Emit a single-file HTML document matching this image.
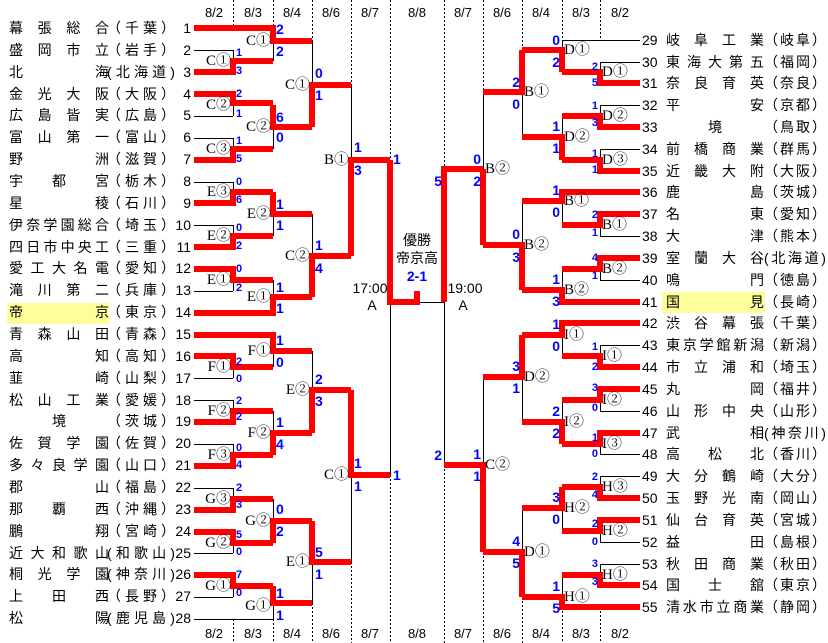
<!DOCTYPE html>
<html><head><meta charset="utf-8"><style>
html,body{margin:0;padding:0;background:#fff}
#w{position:relative;width:828px;height:643px;overflow:hidden;background:#fff}
svg{position:absolute;left:0;top:0}
.r{position:absolute;left:0;width:828px;height:20px;line-height:20px;font-size:14px;font-family:"Liberation Sans","Noto Sans CJK JP",sans-serif;color:#000}
.r span{position:absolute;top:0;display:flex;justify-content:space-between}
.r i{font-style:normal}
.L .n{left:9px;width:100px}
.L .p{left:107px;width:68px}
.L .k{left:168px;width:23px;justify-content:flex-end}
.R .k{left:642px;width:22px;justify-content:flex-start}
.R .n{left:666px;width:98px}
.R .p{left:764px;width:62px}
.c{justify-content:center!important}
.hl{position:absolute;background:#ffff99}
</style></head><body><div id="w">
<div class="hl" style="left:7px;top:303px;width:102px;height:21px"></div>
<div class="hl" style="left:662px;top:292px;width:103px;height:21px"></div>
<svg width="828" height="643" viewBox="0 0 828 643" xmlns="http://www.w3.org/2000/svg">
<g font-family="Liberation Sans, sans-serif" font-size="13" text-anchor="middle" fill="#000">
<text x="214" y="17">8/2</text><text x="253" y="17">8/3</text><text x="292" y="17">8/4</text><text x="331" y="17">8/6</text><text x="370" y="17">8/7</text><text x="417" y="17">8/8</text><text x="463" y="17">8/7</text><text x="502" y="17">8/6</text><text x="541" y="17">8/4</text><text x="581" y="17">8/3</text><text x="620" y="17">8/2</text>
<text x="214" y="638">8/2</text><text x="253" y="638">8/3</text><text x="292" y="638">8/4</text><text x="331" y="638">8/6</text><text x="370" y="638">8/7</text><text x="417" y="638">8/8</text><text x="463" y="638">8/7</text><text x="502" y="638">8/6</text><text x="541" y="638">8/4</text><text x="581" y="638">8/3</text><text x="620" y="638">8/2</text>
</g>
<g stroke="#000" stroke-width="1" stroke-dasharray="2,2" fill="none">
<path d="M233.5 0V28M273.5 0V28M312.5 0V41M351.5 0V85M390.5 0V160M444.5 0V169M483.5 0V92M522.5 0V50M562.5 0V40M600.5 0V40"/>
<path d="M233.5 619V643M273.5 619V643M312.5 603V643M351.5 562V643M390.5 475V643M444.5 465V643M483.5 552V643M522.5 597V643M562.5 607V643M600.5 607V643"/>
</g>
<g stroke="#000" stroke-width="1" fill="none">
<path d="M194 50.5H233M194 116.5H233M194 138.5H233M194 182.5H233M194 225.5H233M194 291.5H233M194 378.5H233M194 400.5H233M194 444.5H233M194 488.5H233M194 553.5H233M194 597.5H233M194 619.5H273"/>
<path d="M233.5 50V72M233.5 94V116M233.5 138V160M233.5 182V203M233.5 225V247M233.5 269V291M233.5 356V378M233.5 400V422M233.5 444V466M233.5 488V510M233.5 532V553M233.5 575V597"/>
<path d="M273.5 28V61M273.5 105V149M273.5 192V236M273.5 280V313M273.5 335V367M273.5 411V455M273.5 499V543M273.5 586V619"/>
<path d="M312.5 41V127M312.5 214V297M312.5 351V433M312.5 521V603M351.5 85V256M351.5 390V562M390.5 160V475M390 302.5H444M444.5 169V465"/>
<path d="M483.5 92V245M483.5 377V552M522.5 50V137M522.5 201V290M522.5 335V422M522.5 508V597"/>
<path d="M562.5 40V72M562.5 116V160M562.5 192V225M562.5 269V302M562.5 323V356M562.5 400V444M562.5 487V531M562.5 575V607"/>
<path d="M600.5 62V83M600.5 105V127M600.5 149V171M600.5 214V236M600.5 258V280M600.5 345V367M600.5 389V411M600.5 433V454M600.5 476V498M600.5 520V542M600.5 564V585"/>
<path d="M640 40.5H562M640 62.5H600M640 105.5H600M640 149.5H600M640 236.5H600M640 280.5H600M640 345.5H600M640 411.5H600M640 454.5H600M640 476.5H600M640 542.5H600M640 564.5H600"/>
</g>
<g stroke="#ff0000" stroke-width="6" fill="none" stroke-linejoin="miter" stroke-linecap="butt">
<path d="M194 72H233V61H273M194 94H233V103H273M194 160H233V149H273M194 203H233V192H273M194 247H233V236H273M194 269H233V280H273M194 356H233V367H273M194 422H233V411H273M194 466H233V455H273M194 510H233V499H273M194 532H233V543H273M194 575H233V586H273"/>
<path d="M194 28H273V41H312M273 105V127H312M273 192V214H312M194 313H273V297H312M194 335H273V351H312M273 455V433H312M273 543V521H312M273 586V603H312"/>
<path d="M312 127V85H351M312 297V256H351M312 433V390H351M312 521V562H351M351 256V160H390M351 390V475H390M390 160V302H417V291"/>
<path d="M444 302V169H483M483 245V169M483 552V465H444"/>
<path d="M522 50V92H483M522 290V245H483M522 335V377H483M522 597V552H483"/>
<path d="M562 72V50H522M562 160V137H522M640 192H562V201H522M640 302H562V290H522M640 323H562V335H522M562 444V422H522M562 487V508H522M640 607H562V597H522"/>
<path d="M640 83H600V72H562M640 127H600V116H562M640 171H600V160H562M640 214H600V225H562M640 258H600V269H562M640 367H600V356H562M640 389H600V400H562M640 433H600V444H562M640 498H600V487H562M640 520H600V531H562M640 585H600V575H562"/>
</g>
<g font-family="Liberation Serif, Noto Serif CJK SC, serif" font-size="15" fill="#000" dominant-baseline="central">
<g text-anchor="end">
<text x="231" y="61">C①</text><text x="231" y="105">C②</text><text x="231" y="149">C③</text><text x="231" y="192">E③</text><text x="231" y="236">E②</text><text x="231" y="280">E①</text><text x="231" y="367">F①</text><text x="231" y="411">F②</text><text x="231" y="455">F③</text><text x="231" y="499">G③</text><text x="231" y="543">G②</text><text x="231" y="586">G①</text>
<text x="271" y="41">C①</text><text x="271" y="127">C②</text><text x="271" y="214">E②</text><text x="271" y="297">E①</text><text x="271" y="351">F①</text><text x="271" y="433">F②</text><text x="271" y="521">G②</text><text x="271" y="606">G①</text>
<text x="310" y="85">C①</text><text x="310" y="256">C②</text><text x="310" y="390">E②</text><text x="310" y="562">E①</text>
<text x="349" y="160">B①</text><text x="349" y="475">C①</text>
</g>
<g text-anchor="start">
<text x="602" y="72">D①</text><text x="602" y="116">D②</text><text x="602" y="160">D③</text><text x="602" y="225">B①</text><text x="602" y="269">B②</text><text x="602" y="356">I①</text><text x="602" y="400">I②</text><text x="602" y="444">I③</text><text x="602" y="487">H③</text><text x="602" y="531">H②</text><text x="602" y="575">H①</text>
<text x="564" y="50">D①</text><text x="564" y="137">D②</text><text x="564" y="201">B①</text><text x="564" y="290">B②</text><text x="564" y="335">I①</text><text x="564" y="422">I②</text><text x="564" y="508">H②</text><text x="564" y="597">H①</text>
<text x="524" y="92">B①</text><text x="524" y="245">B②</text><text x="524" y="377">D②</text><text x="524" y="552">D①</text>
<text x="485" y="169">B②</text><text x="485" y="465">C②</text>
</g>
</g>
<g font-family="Liberation Sans, sans-serif" font-weight="bold" fill="#0000ff" dominant-baseline="central">
<g font-size="11" text-anchor="start">
<text x="236" y="53">1</text><text x="236" y="71">3</text>
<text x="236" y="94">2</text><text x="236" y="114">1</text>
<text x="236" y="141">1</text><text x="236" y="159">5</text>
<text x="236" y="182">0</text><text x="236" y="200">6</text>
<text x="236" y="228">0</text><text x="236" y="246">2</text>
<text x="236" y="269">0</text><text x="236" y="288">2</text>
<text x="236" y="362">2</text><text x="236" y="379">0</text>
<text x="236" y="401">2</text><text x="236" y="417">2</text>
<text x="236" y="448">0</text><text x="236" y="465">4</text>
<text x="236" y="488">2</text><text x="236" y="505">3</text>
<text x="236" y="535">5</text><text x="236" y="552">0</text>
<text x="236" y="575">7</text><text x="236" y="593">0</text>
</g>
<g font-size="11" text-anchor="end">
<text x="598" y="67">2</text><text x="598" y="83">5</text>
<text x="598" y="106">1</text><text x="598" y="123">3</text>
<text x="598" y="154">1</text><text x="598" y="170">1</text>
<text x="598" y="215">2</text><text x="598" y="233">1</text>
<text x="598" y="258">4</text><text x="598" y="276">1</text>
<text x="598" y="347">1</text><text x="598" y="367">2</text>
<text x="598" y="388">3</text><text x="598" y="408">0</text>
<text x="598" y="438">1</text><text x="598" y="454">0</text>
<text x="598" y="477">2</text><text x="598" y="495">4</text>
<text x="598" y="524">2</text><text x="598" y="542">0</text>
<text x="598" y="564">3</text><text x="598" y="582">3</text>
</g>
<g font-size="14" text-anchor="start">
<text x="276" y="29">2</text><text x="276" y="51">2</text>
<text x="276" y="117">6</text><text x="276" y="137">0</text>
<text x="276" y="204">1</text><text x="276" y="225">1</text>
<text x="276" y="287">1</text><text x="276" y="308">1</text>
<text x="276" y="340">1</text><text x="276" y="362">0</text>
<text x="276" y="422">1</text><text x="276" y="444">4</text>
<text x="276" y="509">0</text><text x="276" y="531">2</text>
<text x="276" y="593">1</text><text x="276" y="615">1</text>
<text x="315" y="73">0</text><text x="315" y="95">1</text>
<text x="315" y="245">1</text><text x="315" y="268">4</text>
<text x="315" y="379">2</text><text x="315" y="401">3</text>
<text x="315" y="552">5</text><text x="315" y="574">1</text>
<text x="354" y="147">1</text><text x="354" y="170">3</text>
<text x="354" y="463">1</text><text x="354" y="486">1</text>
<text x="393" y="159">1</text><text x="393" y="475">1</text>
</g>
<g font-size="14" text-anchor="end">
<text x="442" y="181">5</text><text x="442" y="455">2</text>
<text x="481" y="159">0</text><text x="481" y="181">2</text>
<text x="481" y="454">1</text><text x="481" y="476">1</text>
<text x="520" y="82">2</text><text x="520" y="104">0</text>
<text x="520" y="234">0</text><text x="520" y="257">3</text>
<text x="520" y="366">3</text><text x="520" y="388">1</text>
<text x="520" y="541">4</text><text x="520" y="563">5</text>
<text x="560" y="40">0</text><text x="560" y="62">2</text>
<text x="560" y="126">1</text><text x="560" y="148">1</text>
<text x="560" y="190">1</text><text x="560" y="212">0</text>
<text x="560" y="279">1</text><text x="560" y="301">3</text>
<text x="560" y="324">1</text><text x="560" y="346">0</text>
<text x="560" y="411">2</text><text x="560" y="433">2</text>
<text x="560" y="497">3</text><text x="560" y="519">0</text>
<text x="560" y="586">1</text><text x="560" y="608">5</text>
</g>
</g>
<g font-family="Liberation Sans, Noto Sans CJK JP, sans-serif" font-size="14" text-anchor="middle" fill="#000">
<text x="417" y="245">優勝</text><text x="417" y="263">帝京高</text>
<text x="417" y="281" fill="#0000ff" font-weight="bold">2-1</text>
<text x="370" y="293">17:00</text><text x="372" y="310">A</text>
<text x="465" y="293">19:00</text><text x="463" y="310">A</text>
</g>
</svg>

<div class="r L" style="top:18px"><span class="n"><i>幕</i><i>張</i><i>総</i><i>合</i></span><span class="p"><i>（</i><i>千</i><i>葉</i><i>）</i></span><span class="k">1</span></div>
<div class="r L" style="top:40px"><span class="n"><i>盛</i><i>岡</i><i>市</i><i>立</i></span><span class="p"><i>（</i><i>岩</i><i>手</i><i>）</i></span><span class="k">2</span></div>
<div class="r L" style="top:62px"><span class="n"><i>北</i><i>海</i></span><span class="p"><i>(</i><i>北</i><i>海</i><i>道</i><i>)</i></span><span class="k">3</span></div>
<div class="r L" style="top:84px"><span class="n"><i>金</i><i>光</i><i>大</i><i>阪</i></span><span class="p"><i>（</i><i>大</i><i>阪</i><i>）</i></span><span class="k">4</span></div>
<div class="r L" style="top:105px"><span class="n"><i>広</i><i>島</i><i>皆</i><i>実</i></span><span class="p"><i>（</i><i>広</i><i>島</i><i>）</i></span><span class="k">5</span></div>
<div class="r L" style="top:127px"><span class="n"><i>富</i><i>山</i><i>第</i><i>一</i></span><span class="p"><i>（</i><i>富</i><i>山</i><i>）</i></span><span class="k">6</span></div>
<div class="r L" style="top:149px"><span class="n"><i>野</i><i>洲</i></span><span class="p"><i>（</i><i>滋</i><i>賀</i><i>）</i></span><span class="k">7</span></div>
<div class="r L" style="top:171px"><span class="n"><i>宇</i><i>都</i><i>宮</i></span><span class="p"><i>（</i><i>栃</i><i>木</i><i>）</i></span><span class="k">8</span></div>
<div class="r L" style="top:193px"><span class="n"><i>星</i><i>稜</i></span><span class="p"><i>（</i><i>石</i><i>川</i><i>）</i></span><span class="k">9</span></div>
<div class="r L" style="top:215px"><span class="n"><i>伊</i><i>奈</i><i>学</i><i>園</i><i>総</i><i>合</i></span><span class="p"><i>（</i><i>埼</i><i>玉</i><i>）</i></span><span class="k">10</span></div>
<div class="r L" style="top:237px"><span class="n"><i>四</i><i>日</i><i>市</i><i>中</i><i>央</i><i>工</i></span><span class="p"><i>（</i><i>三</i><i>重</i><i>）</i></span><span class="k">11</span></div>
<div class="r L" style="top:258px"><span class="n"><i>愛</i><i>工</i><i>大</i><i>名</i><i>電</i></span><span class="p"><i>（</i><i>愛</i><i>知</i><i>）</i></span><span class="k">12</span></div>
<div class="r L" style="top:280px"><span class="n"><i>滝</i><i>川</i><i>第</i><i>二</i></span><span class="p"><i>（</i><i>兵</i><i>庫</i><i>）</i></span><span class="k">13</span></div>
<div class="r L" style="top:302px"><span class="n"><i>帝</i><i>京</i></span><span class="p"><i>（</i><i>東</i><i>京</i><i>）</i></span><span class="k">14</span></div>
<div class="r L" style="top:324px"><span class="n"><i>青</i><i>森</i><i>山</i><i>田</i></span><span class="p"><i>（</i><i>青</i><i>森</i><i>）</i></span><span class="k">15</span></div>
<div class="r L" style="top:346px"><span class="n"><i>高</i><i>知</i></span><span class="p"><i>（</i><i>高</i><i>知</i><i>）</i></span><span class="k">16</span></div>
<div class="r L" style="top:368px"><span class="n"><i>韮</i><i>崎</i></span><span class="p"><i>（</i><i>山</i><i>梨</i><i>）</i></span><span class="k">17</span></div>
<div class="r L" style="top:390px"><span class="n"><i>松</i><i>山</i><i>工</i><i>業</i></span><span class="p"><i>（</i><i>愛</i><i>媛</i><i>）</i></span><span class="k">18</span></div>
<div class="r L" style="top:411px"><span class="n c"><i>境</i></span><span class="p"><i>（</i><i>茨</i><i>城</i><i>）</i></span><span class="k">19</span></div>
<div class="r L" style="top:433px"><span class="n"><i>佐</i><i>賀</i><i>学</i><i>園</i></span><span class="p"><i>（</i><i>佐</i><i>賀</i><i>）</i></span><span class="k">20</span></div>
<div class="r L" style="top:455px"><span class="n"><i>多</i><i>々</i><i>良</i><i>学</i><i>園</i></span><span class="p"><i>（</i><i>山</i><i>口</i><i>）</i></span><span class="k">21</span></div>
<div class="r L" style="top:477px"><span class="n"><i>郡</i><i>山</i></span><span class="p"><i>（</i><i>福</i><i>島</i><i>）</i></span><span class="k">22</span></div>
<div class="r L" style="top:499px"><span class="n"><i>那</i><i>覇</i><i>西</i></span><span class="p"><i>（</i><i>沖</i><i>縄</i><i>）</i></span><span class="k">23</span></div>
<div class="r L" style="top:521px"><span class="n"><i>鵬</i><i>翔</i></span><span class="p"><i>（</i><i>宮</i><i>崎</i><i>）</i></span><span class="k">24</span></div>
<div class="r L" style="top:543px"><span class="n"><i>近</i><i>大</i><i>和</i><i>歌</i><i>山</i></span><span class="p"><i>(</i><i>和</i><i>歌</i><i>山</i><i>)</i></span><span class="k">25</span></div>
<div class="r L" style="top:564px"><span class="n"><i>桐</i><i>光</i><i>学</i><i>園</i></span><span class="p"><i>(</i><i>神</i><i>奈</i><i>川</i><i>)</i></span><span class="k">26</span></div>
<div class="r L" style="top:586px"><span class="n"><i>上</i><i>田</i><i>西</i></span><span class="p"><i>（</i><i>長</i><i>野</i><i>）</i></span><span class="k">27</span></div>
<div class="r L" style="top:608px"><span class="n"><i>松</i><i>陽</i></span><span class="p"><i>(</i><i>鹿</i><i>児</i><i>島</i><i>)</i></span><span class="k">28</span></div>

<div class="r R" style="top:30px"><span class="k">29</span><span class="n"><i>岐</i><i>阜</i><i>工</i><i>業</i></span><span class="p"><i>（</i><i>岐</i><i>阜</i><i>）</i></span></div>
<div class="r R" style="top:52px"><span class="k">30</span><span class="n"><i>東</i><i>海</i><i>大</i><i>第</i><i>五</i></span><span class="p"><i>（</i><i>福</i><i>岡</i><i>）</i></span></div>
<div class="r R" style="top:73px"><span class="k">31</span><span class="n"><i>奈</i><i>良</i><i>育</i><i>英</i></span><span class="p"><i>（</i><i>奈</i><i>良</i><i>）</i></span></div>
<div class="r R" style="top:95px"><span class="k">32</span><span class="n"><i>平</i><i>安</i></span><span class="p"><i>（</i><i>京</i><i>都</i><i>）</i></span></div>
<div class="r R" style="top:117px"><span class="k">33</span><span class="n c"><i>境</i></span><span class="p"><i>（</i><i>鳥</i><i>取</i><i>）</i></span></div>
<div class="r R" style="top:139px"><span class="k">34</span><span class="n"><i>前</i><i>橋</i><i>商</i><i>業</i></span><span class="p"><i>（</i><i>群</i><i>馬</i><i>）</i></span></div>
<div class="r R" style="top:161px"><span class="k">35</span><span class="n"><i>近</i><i>畿</i><i>大</i><i>附</i></span><span class="p"><i>（</i><i>大</i><i>阪</i><i>）</i></span></div>
<div class="r R" style="top:182px"><span class="k">36</span><span class="n"><i>鹿</i><i>島</i></span><span class="p"><i>（</i><i>茨</i><i>城</i><i>）</i></span></div>
<div class="r R" style="top:204px"><span class="k">37</span><span class="n"><i>名</i><i>東</i></span><span class="p"><i>（</i><i>愛</i><i>知</i><i>）</i></span></div>
<div class="r R" style="top:226px"><span class="k">38</span><span class="n"><i>大</i><i>津</i></span><span class="p"><i>（</i><i>熊</i><i>本</i><i>）</i></span></div>
<div class="r R" style="top:248px"><span class="k">39</span><span class="n"><i>室</i><i>蘭</i><i>大</i><i>谷</i></span><span class="p"><i>(</i><i>北</i><i>海</i><i>道</i><i>)</i></span></div>
<div class="r R" style="top:270px"><span class="k">40</span><span class="n"><i>鳴</i><i>門</i></span><span class="p"><i>（</i><i>徳</i><i>島</i><i>）</i></span></div>
<div class="r R" style="top:292px"><span class="k">41</span><span class="n"><i>国</i><i>見</i></span><span class="p"><i>（</i><i>長</i><i>崎</i><i>）</i></span></div>
<div class="r R" style="top:313px"><span class="k">42</span><span class="n"><i>渋</i><i>谷</i><i>幕</i><i>張</i></span><span class="p"><i>（</i><i>千</i><i>葉</i><i>）</i></span></div>
<div class="r R" style="top:335px"><span class="k">43</span><span class="n"><i>東</i><i>京</i><i>学</i><i>館</i><i>新</i><i>潟</i></span><span class="p"><i>（</i><i>新</i><i>潟</i><i>）</i></span></div>
<div class="r R" style="top:357px"><span class="k">44</span><span class="n"><i>市</i><i>立</i><i>浦</i><i>和</i></span><span class="p"><i>（</i><i>埼</i><i>玉</i><i>）</i></span></div>
<div class="r R" style="top:379px"><span class="k">45</span><span class="n"><i>丸</i><i>岡</i></span><span class="p"><i>（</i><i>福</i><i>井</i><i>）</i></span></div>
<div class="r R" style="top:401px"><span class="k">46</span><span class="n"><i>山</i><i>形</i><i>中</i><i>央</i></span><span class="p"><i>（</i><i>山</i><i>形</i><i>）</i></span></div>
<div class="r R" style="top:423px"><span class="k">47</span><span class="n"><i>武</i><i>相</i></span><span class="p"><i>(</i><i>神</i><i>奈</i><i>川</i><i>)</i></span></div>
<div class="r R" style="top:444px"><span class="k">48</span><span class="n"><i>高</i><i>松</i><i>北</i></span><span class="p"><i>（</i><i>香</i><i>川</i><i>）</i></span></div>
<div class="r R" style="top:466px"><span class="k">49</span><span class="n"><i>大</i><i>分</i><i>鶴</i><i>崎</i></span><span class="p"><i>（</i><i>大</i><i>分</i><i>）</i></span></div>
<div class="r R" style="top:488px"><span class="k">50</span><span class="n"><i>玉</i><i>野</i><i>光</i><i>南</i></span><span class="p"><i>（</i><i>岡</i><i>山</i><i>）</i></span></div>
<div class="r R" style="top:510px"><span class="k">51</span><span class="n"><i>仙</i><i>台</i><i>育</i><i>英</i></span><span class="p"><i>（</i><i>宮</i><i>城</i><i>）</i></span></div>
<div class="r R" style="top:532px"><span class="k">52</span><span class="n"><i>益</i><i>田</i></span><span class="p"><i>（</i><i>島</i><i>根</i><i>）</i></span></div>
<div class="r R" style="top:554px"><span class="k">53</span><span class="n"><i>秋</i><i>田</i><i>商</i><i>業</i></span><span class="p"><i>（</i><i>秋</i><i>田</i><i>）</i></span></div>
<div class="r R" style="top:575px"><span class="k">54</span><span class="n"><i>国</i><i>士</i><i>舘</i></span><span class="p"><i>（</i><i>東</i><i>京</i><i>）</i></span></div>
<div class="r R" style="top:597px"><span class="k">55</span><span class="n"><i>清</i><i>水</i><i>市</i><i>立</i><i>商</i><i>業</i></span><span class="p"><i>（</i><i>静</i><i>岡</i><i>）</i></span></div>
</div></body></html>
